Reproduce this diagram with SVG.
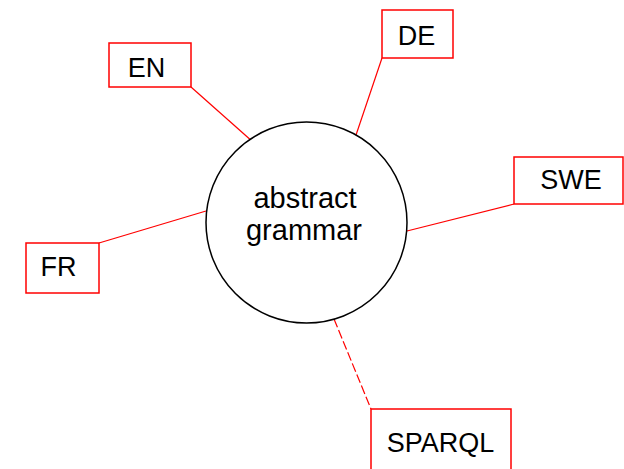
<svg xmlns="http://www.w3.org/2000/svg" width="624" height="469" viewBox="0 0 624 469">
<style>
.box{fill:#fff;stroke:#ff0000;stroke-width:1.5}
.lbl{font-family:"Liberation Sans",Arial,sans-serif;font-size:27px;fill:#000;text-anchor:middle}
.edge{stroke:#ff0000;stroke-width:1.2;fill:none}
</style>
<rect width="624" height="469" fill="#fff"/>
<g id="connectors">
<line class="edge" x1="191" y1="87" x2="253" y2="142"/>
<line class="edge" x1="382" y1="58" x2="355" y2="138"/>
<line class="edge" x1="514" y1="204" x2="407" y2="231"/>
<line class="edge" x1="99" y1="243" x2="206" y2="211"/>
<line class="edge" x1="334" y1="319" x2="371" y2="409" stroke-dasharray="9,3"/>
</g>
<g id="center">
<circle cx="306.5" cy="222.5" r="100.5" fill="#fff" stroke="#000" stroke-width="1.5"/>
<text class="lbl" x="305" y="208" style="font-size:29px">abstract</text>
<text class="lbl" x="304" y="240" style="font-size:29px">grammar</text>
</g>
<g id="en"><rect class="box" x="109" y="43" width="82" height="44"/><text class="lbl" x="146.5" y="77">EN</text></g>
<g id="de"><rect class="box" x="382" y="10" width="71" height="48"/><text class="lbl" x="416.5" y="45">DE</text></g>
<g id="swe"><rect class="box" x="514" y="157" width="109" height="47"/><text class="lbl" x="571" y="189">SWE</text></g>
<g id="fr"><rect class="box" x="26" y="243" width="73" height="50"/><text class="lbl" x="58.5" y="276">FR</text></g>
<g id="sparql"><rect class="box" x="371" y="409" width="140" height="70"/><text class="lbl" x="440.5" y="452">SPARQL</text></g>
</svg>
